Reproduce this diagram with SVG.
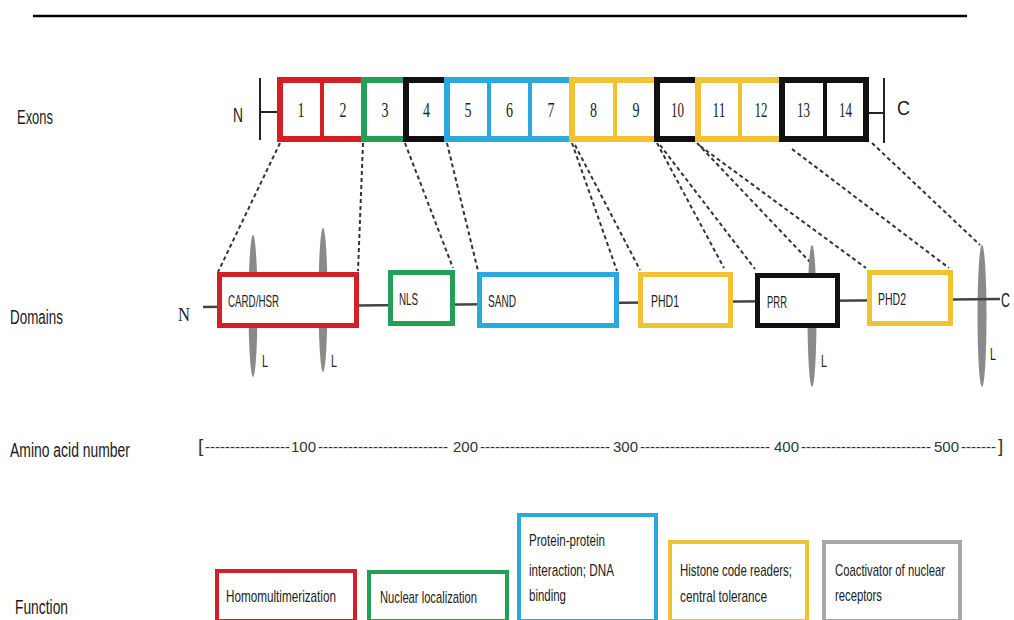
<svg xmlns="http://www.w3.org/2000/svg" width="1014" height="620" viewBox="0 0 1014 620">
<style>
.lbl{font-family:"Liberation Sans",Arial,sans-serif;font-size:19.5px;fill:#1a1a1a}
.num{font-family:"Liberation Serif","Times New Roman",serif;font-size:20px;fill:#222;text-anchor:middle}
.dt{font-family:"Liberation Sans",Arial,sans-serif;font-size:17px;fill:#222}
.ft{font-family:"Liberation Sans",Arial,sans-serif;font-size:17px;fill:#222}
.sc{font-family:"Liberation Sans",Arial,sans-serif;font-size:15px;fill:#333}
.ex{fill:#fff;stroke-width:6}
.dv{stroke-width:4}
.dom{fill:#fff;stroke-width:5}
.fn{fill:#fff;stroke-width:4}
.red{stroke:#d22026}.green{stroke:#23a055}.blue{stroke:#29a9df}.yellow{stroke:#f1c232}.black{stroke:#111}.gray{stroke:#a8a8a8}
.lens{fill:#8a8a8a}
.dash{stroke:#333;stroke-width:2;stroke-dasharray:4 3;fill:none}
.blk{stroke:#222;stroke-width:2;fill:none}
</style>
<rect width="1014" height="620" fill="#fff"/>
<line x1="33" y1="16" x2="967" y2="16" stroke="#000" stroke-width="2.5"/>

<g id="labels">
<text class="lbl" x="17" y="124" textLength="36" lengthAdjust="spacingAndGlyphs">Exons</text>
<text class="lbl" x="10" y="324" textLength="53" lengthAdjust="spacingAndGlyphs">Domains</text>
<text class="lbl" x="10" y="457" textLength="120" lengthAdjust="spacingAndGlyphs">Amino acid  number</text>
<text class="lbl" x="15" y="614" textLength="53" lengthAdjust="spacingAndGlyphs">Function</text>
</g>

<g id="exon-ends">
<text class="lbl" x="233" y="122" font-size="21" textLength="10" lengthAdjust="spacingAndGlyphs">N</text>
<line class="blk" x1="260" y1="78" x2="260" y2="140"/>
<line class="blk" x1="260" y1="112" x2="280" y2="112"/>
<line class="blk" x1="866" y1="113" x2="884" y2="113"/>
<line class="blk" x1="884" y1="78" x2="884" y2="143"/>
<text class="lbl" x="897" y="115" font-size="21" textLength="13" lengthAdjust="spacingAndGlyphs">C</text>
</g>

<g id="exons-1-2">
<rect class="ex red" x="280" y="80" width="84" height="59"/>
<line class="dv red" x1="322" y1="80" x2="322" y2="139"/>
<text class="num" x="301" y="117" textLength="7" lengthAdjust="spacingAndGlyphs">1</text><text class="num" x="343" y="117" textLength="7" lengthAdjust="spacingAndGlyphs">2</text>
</g>
<g id="exon-3">
<rect class="ex green" x="364" y="80" width="42" height="59"/>
<text class="num" x="385" y="117" textLength="7" lengthAdjust="spacingAndGlyphs">3</text>
</g>
<g id="exon-4">
<rect class="ex black" x="406" y="80" width="41" height="59"/>
<text class="num" x="426.5" y="117" textLength="7" lengthAdjust="spacingAndGlyphs">4</text>
</g>
<g id="exons-5-7">
<rect class="ex blue" x="447" y="80" width="125" height="59"/>
<line class="dv blue" x1="489" y1="80" x2="489" y2="139"/>
<line class="dv blue" x1="530" y1="80" x2="530" y2="139"/>
<text class="num" x="468" y="117" textLength="7" lengthAdjust="spacingAndGlyphs">5</text><text class="num" x="509.5" y="117" textLength="7" lengthAdjust="spacingAndGlyphs">6</text><text class="num" x="551" y="117" textLength="7" lengthAdjust="spacingAndGlyphs">7</text>
</g>
<g id="exons-8-9">
<rect class="ex yellow" x="572" y="80" width="85" height="59"/>
<line class="dv yellow" x1="615" y1="80" x2="615" y2="139"/>
<text class="num" x="593.5" y="117" textLength="7" lengthAdjust="spacingAndGlyphs">8</text><text class="num" x="636" y="117" textLength="7" lengthAdjust="spacingAndGlyphs">9</text>
</g>
<g id="exon-10">
<rect class="ex black" x="657" y="80" width="41" height="59"/>
<text class="num" x="677.5" y="117" textLength="13" lengthAdjust="spacingAndGlyphs">10</text>
</g>
<g id="exons-11-12">
<rect class="ex yellow" x="698" y="80" width="84" height="59"/>
<line class="dv yellow" x1="740" y1="80" x2="740" y2="139"/>
<text class="num" x="719" y="117" textLength="13" lengthAdjust="spacingAndGlyphs">11</text><text class="num" x="761" y="117" textLength="13" lengthAdjust="spacingAndGlyphs">12</text>
</g>
<g id="exons-13-14">
<rect class="ex black" x="782" y="80" width="84" height="59"/>
<line class="dv black" x1="825" y1="80" x2="825" y2="139"/>
<text class="num" x="803.5" y="117" textLength="13" lengthAdjust="spacingAndGlyphs">13</text><text class="num" x="845.5" y="117" textLength="13" lengthAdjust="spacingAndGlyphs">14</text>
</g>

<g id="connectors">
<line class="dash" x1="280" y1="143" x2="218" y2="272"/>
<line class="dash" x1="363" y1="143" x2="358" y2="271"/>
<line class="dash" x1="405" y1="143" x2="453" y2="268"/>
<line class="dash" x1="447" y1="143" x2="478" y2="271"/>
<line class="dash" x1="572" y1="143" x2="617" y2="271"/>
<line class="dash" x1="575" y1="145" x2="640" y2="270"/>
<line class="dash" x1="657" y1="143" x2="724" y2="268"/>
<line class="dash" x1="660" y1="145" x2="755" y2="269"/>
<line class="dash" x1="697" y1="143" x2="810" y2="262"/>
<line class="dash" x1="700" y1="146" x2="866" y2="268"/>
<line class="dash" x1="792" y1="149" x2="949" y2="268"/>
<line class="dash" x1="872" y1="143" x2="980" y2="245"/>
</g>

<g id="L-markers">
<ellipse class="lens" cx="253" cy="306" rx="4.5" ry="71"/>
<ellipse class="lens" cx="323" cy="300" rx="4.5" ry="72"/>
<ellipse class="lens" cx="812" cy="316" rx="4.5" ry="71"/>
<ellipse class="lens" cx="982" cy="316" rx="4.5" ry="71"/>
<text class="dt" x="262" y="367" font-size="16" textLength="6" lengthAdjust="spacingAndGlyphs">L</text>
<text class="dt" x="331" y="367" font-size="16" textLength="6" lengthAdjust="spacingAndGlyphs">L</text>
<text class="dt" x="821" y="367" font-size="16" textLength="6" lengthAdjust="spacingAndGlyphs">L</text>
<text class="dt" x="990" y="360" font-size="16" textLength="6" lengthAdjust="spacingAndGlyphs">L</text>
</g>

<g id="protein-backbone">
<line x1="203" y1="307" x2="1000" y2="299" stroke="#444" stroke-width="2.5"/>
<text x="178" y="321" font-family="Liberation Serif,serif" font-size="18" fill="#222" textLength="12" lengthAdjust="spacingAndGlyphs">N</text>
<text class="lbl" x="1001" y="307" textLength="9" lengthAdjust="spacingAndGlyphs">C</text>
</g>

<g id="dom-card">
<rect class="dom red" x="219.5" y="274.5" width="137" height="51"/>
<text class="dt" x="228" y="307" textLength="51" lengthAdjust="spacingAndGlyphs">CARD/HSR</text>
</g>
<g id="dom-nls">
<rect class="dom green" x="390.5" y="272.5" width="62" height="51"/>
<text class="dt" x="399" y="305" textLength="19" lengthAdjust="spacingAndGlyphs">NLS</text>
</g>
<g id="dom-sand">
<rect class="dom blue" x="479.5" y="274.5" width="137" height="51"/>
<text class="dt" x="488" y="307" textLength="28" lengthAdjust="spacingAndGlyphs">SAND</text>
</g>
<g id="dom-phd1">
<rect class="dom yellow" x="640.5" y="274.5" width="90" height="51" stroke-width="4.5"/>
<text class="dt" x="651" y="307" textLength="28" lengthAdjust="spacingAndGlyphs">PHD1</text>
</g>
<g id="dom-prr">
<rect class="dom black" x="757.5" y="275.5" width="80" height="50" stroke-width="5.5"/>
<text class="dt" x="767" y="308" textLength="20" lengthAdjust="spacingAndGlyphs">PRR</text>
</g>
<g id="dom-phd2">
<rect class="dom yellow" x="869.5" y="272.5" width="81" height="51" stroke-width="4.5"/>
<text class="dt" x="878" y="305" textLength="28" lengthAdjust="spacingAndGlyphs">PHD2</text>
</g>

<g id="amino-scale">
<text class="sc" y="452"><tspan x="198" font-size="19">[</tspan><tspan x="205">-----------------</tspan><tspan x="291">100</tspan><tspan x="318">--------------------------</tspan><tspan x="453">200</tspan><tspan x="480">--------------------------</tspan><tspan x="613">300</tspan><tspan x="640">--------------------------</tspan><tspan x="774">400</tspan><tspan x="801">--------------------------</tspan><tspan x="934">500</tspan><tspan x="961">-------</tspan><tspan x="998" font-size="19">]</tspan></text>
</g>

<g id="fn-homo">
<rect class="fn red" x="217" y="571" width="138" height="50"/>
<text class="ft" x="226" y="602" textLength="110" lengthAdjust="spacingAndGlyphs">Homomultimerization</text>
</g>
<g id="fn-nuclear">
<rect class="fn green" x="369" y="572" width="138" height="49"/>
<text class="ft" x="380" y="603" textLength="97" lengthAdjust="spacingAndGlyphs">Nuclear localization</text>
</g>
<g id="fn-protein">
<rect class="fn blue" x="519" y="515" width="137" height="106"/>
<text class="ft" x="529" y="546" textLength="76" lengthAdjust="spacingAndGlyphs">Protein-protein</text>
<text class="ft" x="529" y="576" textLength="85" lengthAdjust="spacingAndGlyphs">interaction; DNA</text>
<text class="ft" x="529" y="601" textLength="37" lengthAdjust="spacingAndGlyphs">binding</text>
</g>
<g id="fn-histone">
<rect class="fn yellow" x="670" y="542" width="137" height="79"/>
<text class="ft" x="680" y="576" textLength="112" lengthAdjust="spacingAndGlyphs">Histone code readers;</text>
<text class="ft" x="680" y="602" textLength="87" lengthAdjust="spacingAndGlyphs">central tolerance</text>
</g>
<g id="fn-coactivator">
<rect class="fn gray" x="824" y="542" width="136" height="79"/>
<text class="ft" x="835" y="576" textLength="110" lengthAdjust="spacingAndGlyphs">Coactivator of nuclear</text>
<text class="ft" x="835" y="601" textLength="47" lengthAdjust="spacingAndGlyphs">receptors</text>
</g>
</svg>
